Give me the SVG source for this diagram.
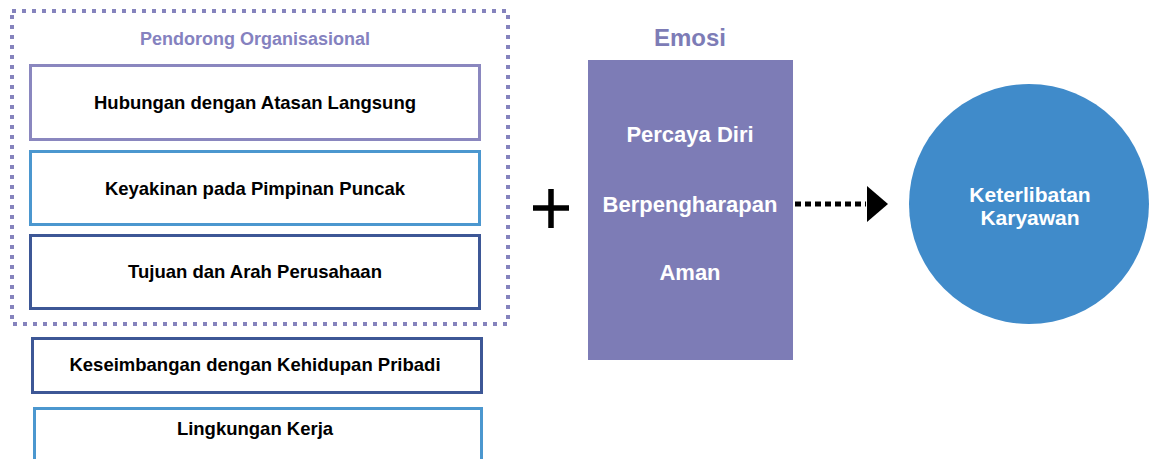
<svg xmlns="http://www.w3.org/2000/svg" width="1149" height="459" viewBox="0 0 1149 459">
<style>
.box{fill:#ffffff;stroke-width:3}
.lav{stroke:#8a87bf}
.lb{stroke:#4b97cf}
.nv{stroke:#3d5796}
.bt{font-family:"Liberation Sans",Arial,sans-serif;font-weight:bold;font-size:18.5px;fill:#000000;text-anchor:middle}
.wt{font-family:"Liberation Sans",Arial,sans-serif;font-weight:bold;font-size:22px;fill:#ffffff;text-anchor:middle}
.ct{font-family:"Liberation Sans",Arial,sans-serif;font-weight:bold;font-size:21px;fill:#ffffff;text-anchor:middle}
.ttl{font-family:"Liberation Sans",Arial,sans-serif;font-weight:bold;text-anchor:middle}
</style>
<rect width="1149" height="459" fill="#ffffff"/>
<g id="pendorong-group">
<rect x="12" y="11" width="496" height="313" fill="none" stroke="#8583bd" stroke-width="4" stroke-dasharray="4 6"/>
<text class="ttl" x="255" y="45" font-size="18" fill="#8582bf">Pendorong Organisasional</text>
</g>
<g id="node-hubungan">
<rect class="box lav" x="30.5" y="65.5" width="449" height="74"/>
<text class="bt" x="255" y="109">Hubungan dengan Atasan Langsung</text>
</g>
<g id="node-keyakinan">
<rect class="box lb" x="30.5" y="151.5" width="449" height="73"/>
<text class="bt" x="255" y="195">Keyakinan pada Pimpinan Puncak</text>
</g>
<g id="node-tujuan">
<rect class="box nv" x="30.5" y="235.5" width="449" height="73"/>
<text class="bt" x="255" y="278">Tujuan dan Arah Perusahaan</text>
</g>
<g id="node-keseimbangan">
<rect class="box nv" x="32.5" y="338.5" width="449" height="54"/>
<text class="bt" x="255" y="371">Keseimbangan dengan Kehidupan Pribadi</text>
</g>
<g id="node-lingkungan">
<rect class="box lb" x="34.5" y="408.5" width="447" height="62"/>
<text class="bt" x="255" y="435">Lingkungan Kerja</text>
</g>
<g id="plus">
<path d="M533 208H569M551 189V228" stroke="#000000" stroke-width="5.5" fill="none"/>
</g>
<g id="node-emosi">
<text class="ttl" x="690" y="46" font-size="24" fill="#7d7cb6">Emosi</text>
<rect x="588" y="60" width="205" height="300" fill="#7d7cb6"/>
<text class="wt" x="690" y="142">Percaya Diri</text>
<text class="wt" x="690" y="212">Berpengharapan</text>
<text class="wt" x="690" y="280">Aman</text>
</g>
<g id="connectors">
<line x1="795" y1="204" x2="866" y2="204" stroke="#000000" stroke-width="5" stroke-dasharray="6 4"/>
<polygon points="867,186 888,204 867,222" fill="#000000"/>
</g>
<g id="node-keterlibatan">
<circle cx="1029" cy="204" r="120" fill="#408bca"/>
<text class="ct" x="1030" y="202">Keterlibatan</text>
<text class="ct" x="1030" y="225">Karyawan</text>
</g>
</svg>
